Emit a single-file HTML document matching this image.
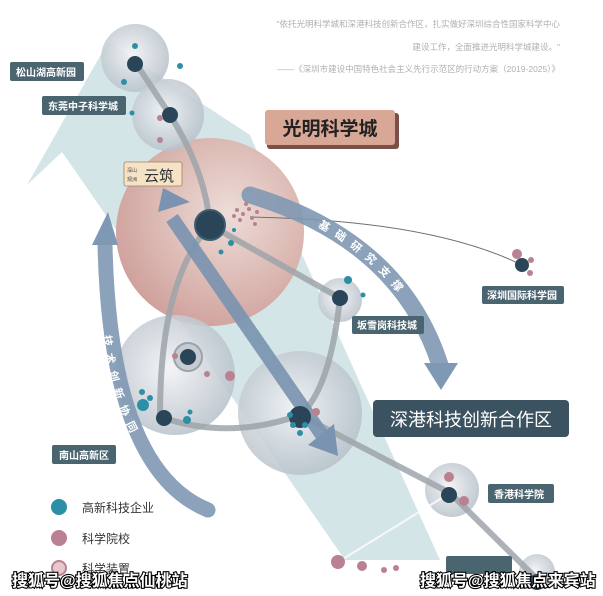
<!DOCTYPE html>
<html><head><meta charset="utf-8"><style>
html,body{margin:0;padding:0;background:#fff;}
svg{display:block;font-family:"Liberation Sans","Noto Sans CJK SC",sans-serif;}
</style></head><body>
<svg width="603" height="596" viewBox="0 0 603 596" xmlns="http://www.w3.org/2000/svg">
<defs>
<radialGradient id="pk" cx="0.6" cy="0.4" r="0.65"><stop offset="0" stop-color="#eddcd8"/><stop offset="0.6" stop-color="#dcb9b3"/><stop offset="1" stop-color="#cfa09c"/></radialGradient>
<radialGradient id="gb" cx="0.45" cy="0.45" r="0.6"><stop offset="0" stop-color="#f2f3f5" stop-opacity="0.9"/><stop offset="1" stop-color="#b4bec7" stop-opacity="0.85"/></radialGradient>
<path id="rp" d="M250,195 Q400,240 440,365"/>
<path id="lp" d="M105,300 Q108,450 208,510"/>
</defs>
<rect width="603" height="596" fill="#fff"/>
<polygon points="108,42 27,185 62,152 345,560 440,560 300,250 250,135" fill="#cfe2e6" opacity="0.9"/>
<g fill="#b0b0b0" font-size="8.5" text-anchor="end">
<text x="560" y="27">"依托光明科学城和深港科技创新合作区，扎实做好深圳综合性国家科学中心</text>
<text x="560" y="50">建设工作，全面推进光明科学城建设。"</text>
<text x="560" y="72">——《深圳市建设中国特色社会主义先行示范区的行动方案（2019-2025）》</text>
</g>
<circle cx="210" cy="232" r="94" fill="url(#pk)"/>
<circle cx="135" cy="58" r="34" fill="url(#gb)"/>
<circle cx="168" cy="115" r="36" fill="url(#gb)"/>
<circle cx="175" cy="375" r="60" fill="url(#gb)"/>
<circle cx="300" cy="413" r="62" fill="url(#gb)"/>
<circle cx="340" cy="300" r="22" fill="url(#gb)"/>
<circle cx="452" cy="490" r="27" fill="url(#gb)"/>
<circle cx="537" cy="572" r="18" fill="url(#gb)"/>
<circle cx="188" cy="357" r="14" fill="#c6ccd2" stroke="#9aa3ab" stroke-width="2"/>
<g fill="none" stroke="#9ea5aa" stroke-width="6" opacity="0.85">
<path d="M135,62 L170,115 Q205,170 210,225"/>
<path d="M210,225 L340,298"/>
<path d="M340,298 Q330,390 300,415"/>
<path d="M164,418 Q230,440 300,415"/>
<path d="M300,415 L450,493 L538,580"/>
<path d="M210,225 Q160,280 160,415"/>
</g>
<g stroke="#fff" stroke-width="2" opacity="0.8"><line x1="338" y1="562" x2="450" y2="493"/></g>
<path d="M250,217 Q430,220 522,265" fill="none" stroke="#6b7078" stroke-width="1"/>
<path d="M250,195 Q400,240 440,365" fill="none" stroke="#7f98b3" stroke-width="17" stroke-linecap="round" opacity="0.9"/>
<polygon points="424,363 458,363 441,390" fill="#7f98b3"/>
<text font-size="11" font-weight="bold" fill="#fff" dy="4" letter-spacing="8"><textPath href="#rp" startOffset="75">基础研究支撑</textPath></text>
<path d="M208,510 Q110,470 105,245" fill="none" stroke="#7f98b3" stroke-width="15" stroke-linecap="round" opacity="0.9"/>
<polygon points="92,245 118,245 108,212" fill="#7f98b3"/>
<text font-size="11" font-weight="bold" fill="#fff" dy="4" letter-spacing="7"><textPath href="#lp" startOffset="35">技术创新协同</textPath></text>
<line x1="172" y1="218" x2="322" y2="435" stroke="#7a93b0" stroke-width="14" opacity="0.9"/>
<polygon points="158,212 190,202 163,188" fill="#7a93b0"/>
<polygon points="308,445 338,456 334,424" fill="#7a93b0"/>
<g fill="#2a4558">
<circle cx="135" cy="64" r="8"/><circle cx="170" cy="115" r="8"/>
<circle cx="210" cy="225" r="15" stroke="#3d5c70" stroke-width="2"/>
<circle cx="340" cy="298" r="8"/><circle cx="188" cy="357" r="8"/>
<circle cx="164" cy="418" r="8"/><circle cx="300" cy="417" r="11"/>
<circle cx="449" cy="495" r="8"/><circle cx="537" cy="582" r="8"/>
<circle cx="522" cy="265" r="7"/>
</g>
<g fill="#2d8fa5">
<circle cx="135" cy="46" r="3"/><circle cx="180" cy="66" r="3"/><circle cx="124" cy="82" r="3"/><circle cx="132" cy="113" r="2.5"/>
<circle cx="231" cy="243" r="3"/><circle cx="221" cy="252" r="2.5"/><circle cx="234" cy="230" r="2"/>
<circle cx="348" cy="280" r="4"/><circle cx="363" cy="295" r="2.5"/>
<circle cx="143" cy="405" r="6"/><circle cx="150" cy="398" r="3"/><circle cx="142" cy="392" r="3"/>
<circle cx="187" cy="420" r="4"/><circle cx="190" cy="412" r="2.5"/>
<circle cx="290" cy="415" r="3"/><circle cx="293" cy="425" r="3"/><circle cx="300" cy="433" r="3"/><circle cx="305" cy="425" r="3"/>
</g>
<g fill="#b98192">
<circle cx="207" cy="374" r="3"/><circle cx="230" cy="376" r="5"/>
<circle cx="316" cy="412" r="4"/>
<circle cx="449" cy="477" r="5"/><circle cx="464" cy="501" r="5"/>
<circle cx="338" cy="562" r="7"/><circle cx="362" cy="566" r="5"/><circle cx="384" cy="570" r="3"/><circle cx="396" cy="568" r="3"/>
<circle cx="517" cy="254" r="5"/><circle cx="531" cy="260" r="3"/><circle cx="530" cy="273" r="3"/>
<circle cx="160" cy="118" r="3"/><circle cx="160" cy="140" r="3"/><circle cx="175" cy="356" r="3"/>
<circle cx="237" cy="210" r="2"/><circle cx="243" cy="214" r="2"/><circle cx="249" cy="209" r="2"/><circle cx="240" cy="220" r="2"/><circle cx="252" cy="218" r="2"/><circle cx="257" cy="212" r="2"/><circle cx="246" cy="204" r="2"/><circle cx="255" cy="224" r="2"/><circle cx="234" cy="216" r="2"/>
</g>
<g font-size="10" font-weight="bold" fill="#fff">
<rect x="10" y="62" width="74" height="19" rx="2" fill="#4a6470"/><text x="16" y="76">松山湖高新园</text>
<rect x="42" y="96" width="84" height="19" rx="2" fill="#4a6470"/><text x="48" y="110">东莞中子科学城</text>
<rect x="482" y="286" width="82" height="18" rx="2" fill="#4a6470"/><text x="487" y="299">深圳国际科学园</text>
<rect x="352" y="316" width="72" height="18" rx="2" fill="#4a6470"/><text x="357" y="329">坂雪岗科技城</text>
<rect x="52" y="445" width="64" height="19" rx="2" fill="#4a6470"/><text x="59" y="459">南山高新区</text>
<rect x="488" y="484" width="66" height="19" rx="2" fill="#4a6470"/><text x="494" y="498">香港科学院</text>
<rect x="446" y="556" width="66" height="18" rx="2" fill="#4a6470"/>
</g>
<rect x="267" y="113" width="132" height="36" rx="3" fill="#7a5048"/>
<rect x="265" y="110" width="130" height="35" rx="3" fill="#d8a796"/>
<text x="330" y="135" font-size="19" font-weight="bold" fill="#222" text-anchor="middle">光明科学城</text>
<rect x="124" y="162" width="58" height="24" rx="2" fill="#f6e3c6" stroke="#a08060" stroke-width="0.8"/>
<text x="127" y="172" font-size="5" fill="#444">深山</text><text x="127" y="181" font-size="5" fill="#444">观洲</text>
<text x="144" y="181" font-size="15" fill="#333">云筑</text>
<rect x="373" y="400" width="196" height="37" rx="4" fill="#3b5261"/>
<text x="471" y="426" font-size="18" fill="#fff" text-anchor="middle">深港科技创新合作区</text>
<circle cx="59" cy="507" r="8" fill="#2d8fa5"/><text x="82" y="512" font-size="12" fill="#333">高新科技企业</text>
<circle cx="59" cy="538" r="8" fill="#b98192"/><text x="82" y="543" font-size="12" fill="#333">科学院校</text>
<circle cx="59" cy="568" r="7" fill="#e8c8cf" stroke="#b98192" stroke-width="2"/><text x="82" y="573" font-size="12" fill="#333">科学装置</text>
<g font-size="16" font-weight="bold" fill="#fff" stroke="#000" stroke-width="2.2" paint-order="stroke">
<text x="12" y="586">搜狐号@搜狐焦点仙桃站</text>
<text x="420" y="586">搜狐号@搜狐焦点来宾站</text>
</g>
</svg>
</body></html>
